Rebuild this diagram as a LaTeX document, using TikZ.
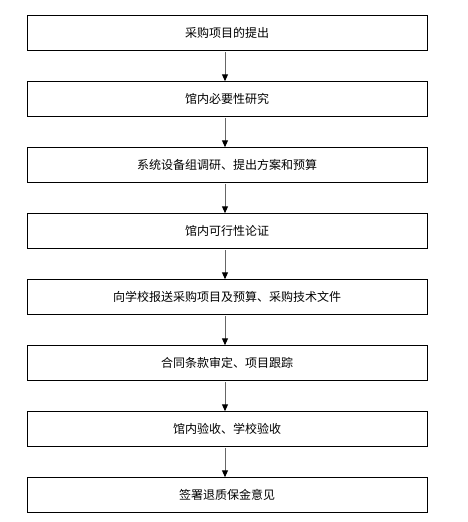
\documentclass[tikz,border=0pt]{standalone}
\usepackage{fontspec}
\newfontfamily\cjk{Noto Sans CJK SC}
\usetikzlibrary{positioning,arrows.meta}

\begin{document}
\begin{tikzpicture}[
      node distance = 30.5pt,
      stepbox/.style = {draw=black, line width=0.8pt, minimum width=400pt,
                        minimum height=35.5pt, inner sep=0pt, outer sep=0pt,
                        font=\cjk\fontsize{12pt}{14pt}\selectfont},
      arr/.style = {-{Triangle[length=7pt,width=6pt,black]}, line width=1pt,
                    black!60, shorten <=1pt},
    ]
    \useasboundingbox (0,0) rectangle (468pt,-522pt);
    \node[stepbox] (S1) at (227pt,-33pt) {采购项目的提出};
    \node[stepbox, below=of S1] (S2) {馆内必要性研究};
    \node[stepbox, below=of S2] (S3) {系统设备组调研、提出方案和预算};
    \node[stepbox, below=of S3] (S4) {馆内可行性论证};
    \node[stepbox, below=of S4] (S5) {向学校报送采购项目及预算、采购技术文件};
    \node[stepbox, below=of S5] (S6) {合同条款审定、项目跟踪};
    \node[stepbox, below=of S6] (S7) {馆内验收、学校验收};
    \node[stepbox, below=of S7] (S8) {签署退质保金意见};

    \foreach \a/\b in {S1/S2,S2/S3,S3/S4,S4/S5,S5/S6,S6/S7,S7/S8}
      \draw[arr] ([xshift=-2pt]\a.south) -- ([xshift=-2pt]\b.north);
  \end{tikzpicture}
\end{document}
